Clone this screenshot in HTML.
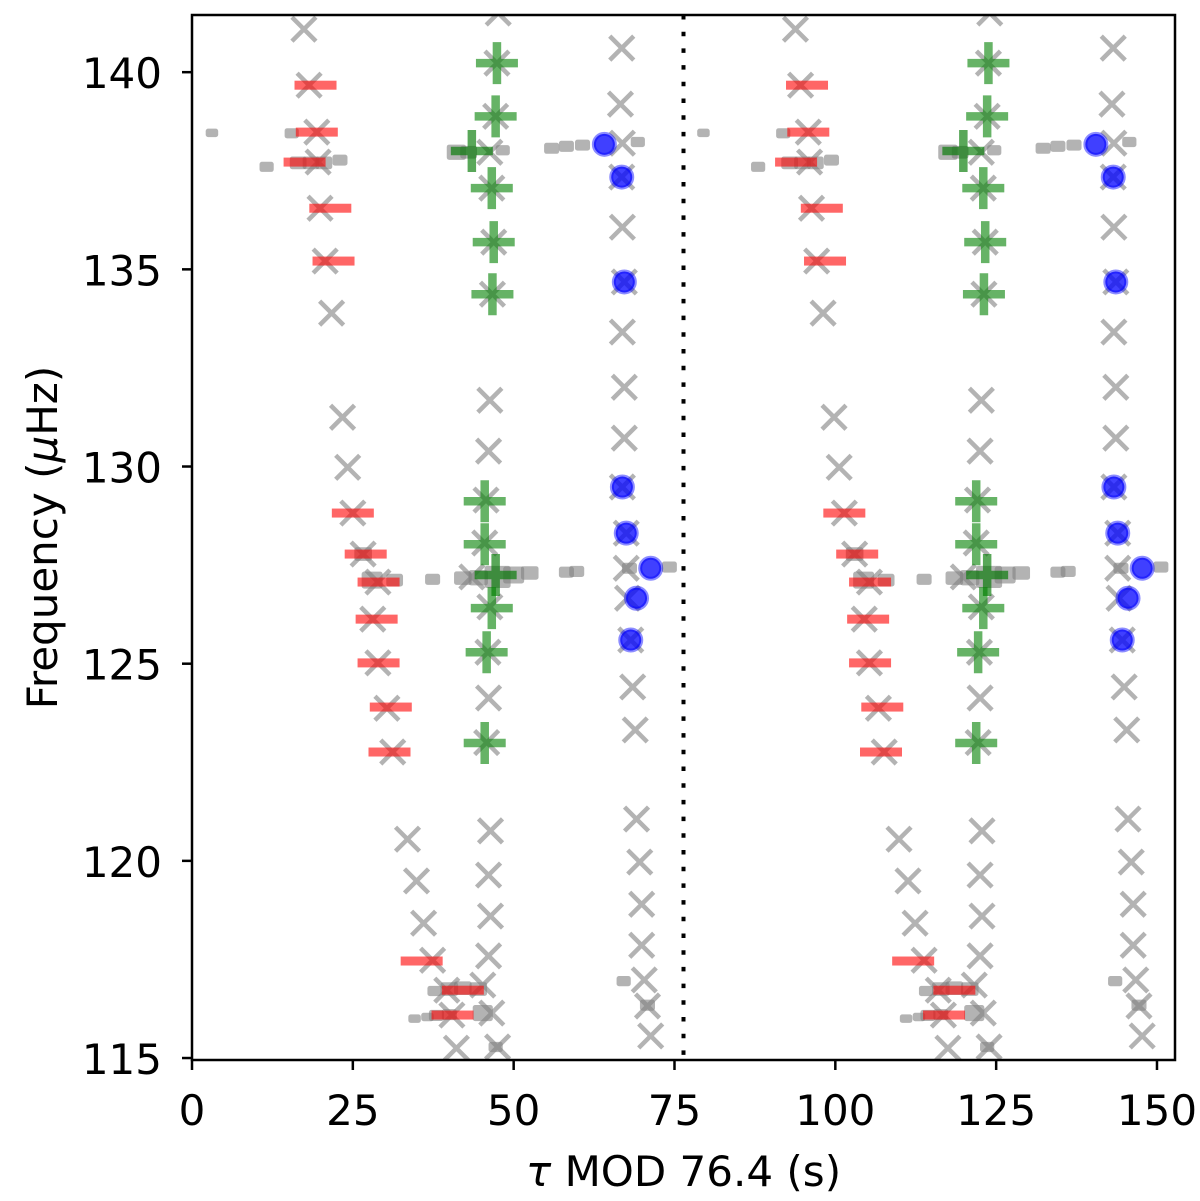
<!DOCTYPE html>
<html><head><meta charset="utf-8"><style>
html,body{margin:0;padding:0;background:#fff;}
svg{display:block;font-family:"DejaVu Sans","Liberation Sans",sans-serif;}
</style></head><body>
<svg id="chart" width="1200" height="1201" viewBox="0 0 1200 1201" xmlns="http://www.w3.org/2000/svg">
<defs><clipPath id="pc"><rect x="192" y="15" width="983" height="1045"/></clipPath></defs>
<g id="marks" clip-path="url(#pc)"></g>
<g id="axes"></g>
</svg>
<script>
const xTicks=[0,25,50,75,100,125,150];
const yTicks=[115,120,125,130,135,140];
const period=76.4;
// gray x markers [tau, freq]
const crossX=[17.4,18.2,19.4,19.6,19.9,20.7,21.7,23.4,24.2,25.0,26.6,28.9,28.1,28.9,30.3,31.2,33.5,34.9,36.0,37.4,39.6,40.4,41.1,
47.6,47.4,47.2,46.3,46.6,46.9,46.7,46.3,46.1,45.7,45.5,43.5,46.3,46.0,46.1,45.8,46.4,46.1,46.4,46.1,45.2,46.6,47.5,
66.8,66.6,66.9,66.8,66.9,67.2,66.9,67.2,67.2,66.9,67.5,67.5,67.7,68.2,68.5,68.9,69.1,69.6,69.9,69.9,70.3,70.8,71.3];
const crossY=[141.09,139.67,138.48,137.72,136.55,135.21,133.89,131.25,129.98,128.82,127.78,127.07,126.13,125.02,123.87,122.76,120.55,119.49,118.42,117.48,116.72,116.09,115.25,
141.5,140.23,138.88,137.97,137.06,135.69,134.37,131.68,130.39,129.15,128.06,127.2,126.44,125.29,124.13,123.0,120.76,119.64,118.6,117.59,116.85,116.14,115.28,
140.61,139.19,138.2,137.34,136.07,134.68,133.41,132.01,130.72,129.48,128.31,127.42,126.66,125.6,124.41,123.32,121.06,119.97,118.9,117.86,116.98,116.32,115.56];
// red bars
const redX=[19.2,19.4,17.5,21.5,22.0,25.0,27.0,29.0,28.7,29.0,30.9,30.7,35.7,42.1,40.5];
const redY=[139.67,138.48,137.72,136.55,135.21,128.82,127.78,127.07,126.13,125.02,123.9,122.76,117.46,116.72,116.09];
// green pluses
const greenX=[47.4,47.2,43.5,46.6,46.9,46.7,45.5,45.5,47.2,46.6,45.8,45.5];
const greenY=[140.23,138.88,138.0,137.06,135.69,134.37,129.12,128.03,127.25,126.41,125.29,122.99];
const greenBig=[0,0,1,0,0,0,0,0,1,0,0,0];
// blue circles
const blueX=[64.1,66.8,67.2,66.9,67.5,71.3,69.1,68.2];
const blueY=[138.17,137.34,134.68,129.48,128.31,127.42,126.66,125.6];
// gray ridge squares [tau, freq, relative size]
const sqX=[3.1,11.6,15.5,16.5,18.5,20.5,23.0,41.1,43.0,48.3,55.9,58.2,60.7,69.3,
26.6,28.0,31.5,37.4,42.1,44.5,47.5,50.0,52.5,58.2,59.8,68.0,74.2,
67.1,70.8,47.2,45.2,34.6,36.6,38.0,40.0,37.7,40.0,42.1,44.5];
const sqY=[138.46,137.6,138.45,137.7,137.7,137.7,137.77,137.97,137.97,138.02,138.07,138.12,138.15,138.23,
127.78,127.12,127.12,127.14,127.17,127.18,127.2,127.25,127.3,127.32,127.34,127.42,127.45,
116.95,116.34,115.28,116.14,116.0,116.04,116.08,116.1,116.7,116.75,116.77,116.75];
const sqS=[1,1.2,1.2,1.5,1.5,1.5,1.3,1.8,1.5,1.2,1.3,1.3,1.3,1.2,
1.6,2.0,1.5,1.3,1.6,1.8,2.6,2.0,1.6,1.3,1.3,1.3,1.3,
1.2,1.3,1.2,1.9,1.0,1.0,1.3,1.3,1.2,1.6,1.6,1.6];

const X0=192,X1=1175,Y0=1060,Y1=15,XMIN=0,XMAX=152.8,YMIN=114.95,YMAX=141.45;
const sx=v=>X0+(v-XMIN)/(XMAX-XMIN)*(X1-X0);
const sy=v=>Y0-(v-YMIN)/(YMAX-YMIN)*(Y0-Y1);
const NS='http://www.w3.org/2000/svg';
const marks=document.getElementById('marks'),axes=document.getElementById('axes');
function mk(tag,attrs,parent){const e=document.createElementNS(NS,tag);for(const k in attrs)e.setAttribute(k,attrs[k]);parent.appendChild(e);return e;}
const shifts=[0,period];
for(const s of shifts){
  for(let i=0;i<sqX.length;i++){const w=8.5*sqS[i];
    const r=mk('rect',{x:sx(sqX[i]+s)-w/2-2,y:sy(sqY[i])-w/2,width:w+4,height:w,rx:2.5,fill:'rgba(128,128,128,0.6)'},marks);
    
    }
  for(let i=0;i<crossX.length;i++){const cx=sx(crossX[i]+s),cy=sy(crossY[i]),h=12;
    const p=mk('path',{d:`M${cx-h},${cy-h}L${cx+h},${cy+h}M${cx-h},${cy+h}L${cx+h},${cy-h}`,stroke:'rgba(128,128,128,0.6)','stroke-width':4.5,fill:'none'},marks);
    
    }
  for(let i=0;i<redX.length;i++){
    const r=mk('rect',{x:sx(redX[i]+s)-21,y:sy(redY[i])-4.5,width:42,height:9,fill:'rgba(255,0,0,0.6)'},marks);
    
    }
  for(let i=0;i<greenX.length;i++){const cx=sx(greenX[i]+s),cy=sy(greenY[i]),h=21;
    const col=greenBig[i]?'rgba(0,120,0,0.65)':'rgba(0,128,0,0.6)';
    const p=mk('path',{d:`M${cx-h},${cy}L${cx+h},${cy}M${cx},${cy-h}L${cx},${cy+h}`,stroke:col,'stroke-width':8.5,fill:'none'},marks);
    
    }
  for(let i=0;i<blueX.length;i++){
    const c=mk('circle',{cx:sx(blueX[i]+s),cy:sy(blueY[i]),r:10.5,fill:'rgba(0,0,255,0.75)',stroke:'rgba(0,0,255,0.45)','stroke-width':4},marks);
    
    }
}
const dl=mk('line',{x1:sx(period),x2:sx(period),y1:Y1,y2:Y0,stroke:'#000','stroke-width':4,'stroke-dasharray':'4.5 12.2'},marks);


const fr=mk('rect',{x:X0,y:Y1,width:X1-X0,height:Y0-Y1,fill:'none',stroke:'#000','stroke-width':2.5},axes);


for(const t of xTicks){const x=sx(t);
  const l=mk('line',{x1:x,x2:x,y1:Y0,y2:Y0+10,stroke:'#000','stroke-width':2.5},axes);
  
  
  const tx=mk('text',{x:x,y:1125,'text-anchor':'middle','font-size':42},axes);tx.textContent=t;
  
  }
for(const t of yTicks){const y=sy(t);
  const l=mk('line',{x1:X0-10,x2:X0,y1:y,y2:y,stroke:'#000','stroke-width':2.5},axes);
  
  
  const tx=mk('text',{x:X0-30,y:y+16,'text-anchor':'end','font-size':42},axes);tx.textContent=t;
  
  }
const xl=mk('text',{x:(X0+X1)/2,y:1186,'text-anchor':'middle','font-size':42},axes);
xl.innerHTML='<tspan font-style="italic">τ</tspan> MOD 76.4 (s)';


const yl=mk('text',{x:0,y:0,'text-anchor':'middle','font-size':42,transform:`translate(57,${(Y0+Y1)/2}) rotate(-90)`},axes);
yl.innerHTML='Frequency (<tspan font-style="italic">μ</tspan>Hz)';


</script>
</body></html>
